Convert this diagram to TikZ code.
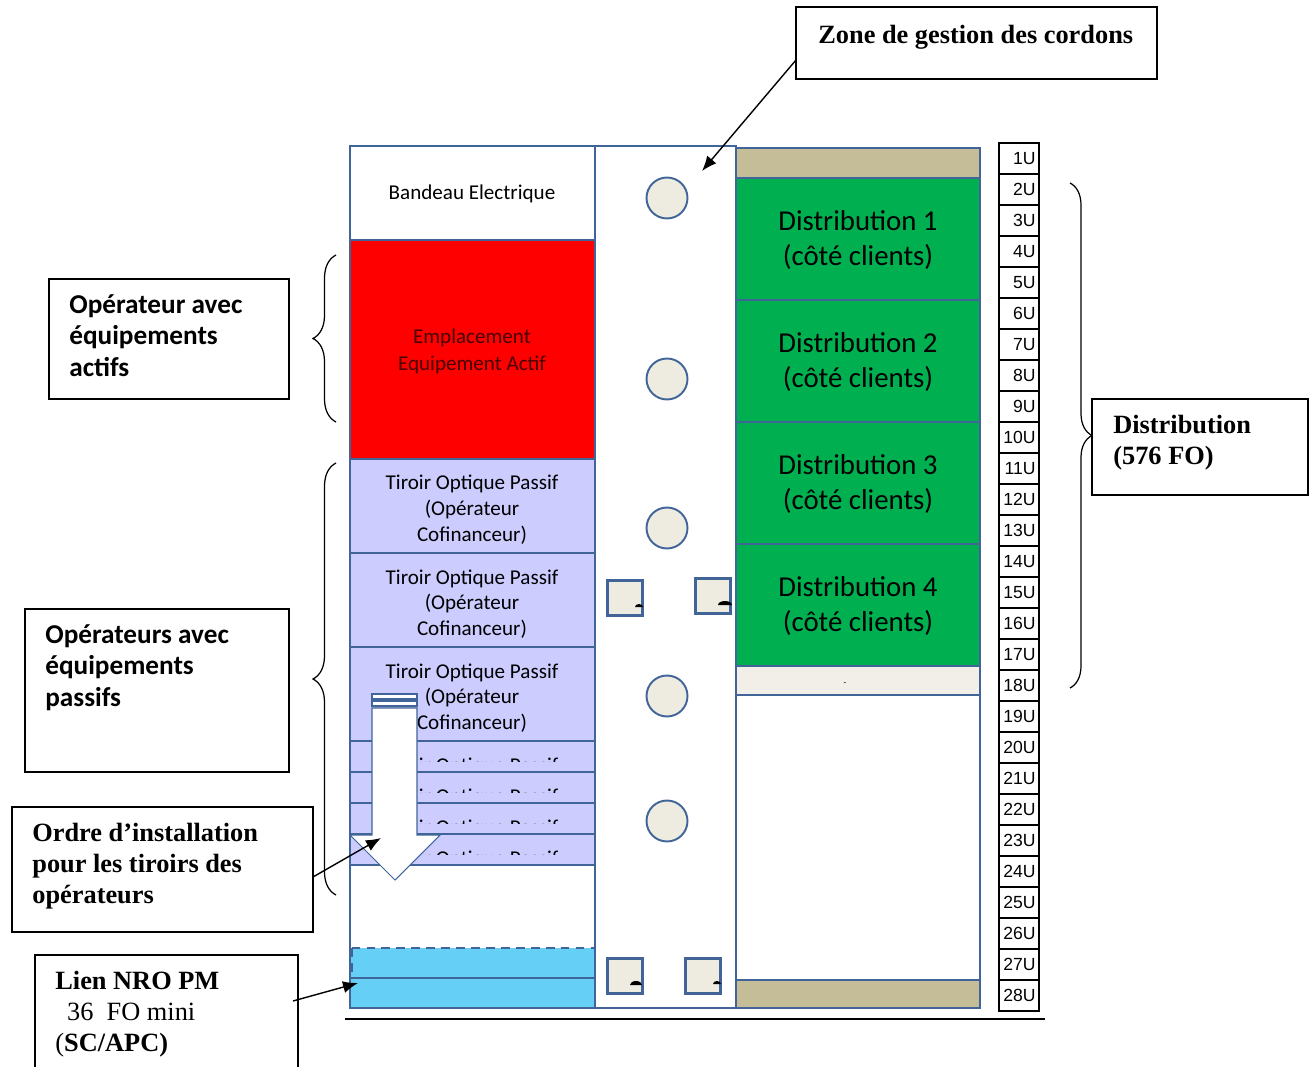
\documentclass[tikz,border=0pt]{standalone}
\usepackage{fontspec}
\setmainfont{Liberation Serif}
\newfontfamily\calfont{Carlito}
\newfontfamily\unitfont{Liberation Sans}
\usetikzlibrary{arrows.meta,decorations.pathreplacing}

\definecolor{rackblue}{RGB}{65,101,152}
\definecolor{tirlav}{RGB}{204,204,255}
\definecolor{distgreen}{RGB}{0,176,80}
\definecolor{bandtan}{RGB}{196,189,151}
\definecolor{padbeige}{RGB}{242,239,233}
\definecolor{ringfill}{RGB}{238,236,225}
\definecolor{nrocyan}{RGB}{102,207,245}
\definecolor{actred}{RGB}{255,0,0}
\definecolor{acttext}{RGB}{70,0,0}

\tikzset{
  slot/.style={draw=rackblue,line width=1.3pt},
  ring/.style={circle,draw=rackblue,line width=1.1pt,fill=ringfill,minimum size=0.82cm,inner sep=0pt},
  tray/.style={rectangle,draw=rackblue,line width=1.5pt,fill=ringfill,minimum size=0.7cm,inner sep=0pt},
  tirtxt/.style={align=center,inner sep=0pt,font=\calfont\fontsize{12}{14.7}\selectfont},
  disttxt/.style={align=center,inner sep=0pt,font=\calfont\fontsize{16.4}{20.4}\selectfont},
  unitbox/.style={draw=black,line width=0.9pt,text width=0.66cm,align=right,inner xsep=0.07cm,inner ysep=0pt,minimum height=0.62cm,font=\unitfont\fontsize{10}{10}\selectfont},
  callbox/.style={draw=black,line width=0.9pt,inner sep=0pt},
  calltxt/.style={anchor=north west,align=left,inner sep=0pt,font=\bfseries\fontsize{15}{17.6}\selectfont},
  opertxt/.style={anchor=north west,align=left,inner sep=0pt,font=\calfont\bfseries\fontsize{15.5}{18.1}\selectfont},
  callarrow/.style={line width=0.8pt,-{Latex[length=3mm,width=2.4mm]}},
  rackbrace/.style={line width=0.7pt,decorate,decoration={brace,amplitude=#1}}
}

\begin{document}
\begin{tikzpicture}[x=0.02cm,y=-0.02cm]
\useasboundingbox (0,0) rectangle (1309,1067);

% left column
\draw[slot,fill=white] (350,146) rectangle (595,240);
\node[tirtxt] (bandeau) at (472,194) {Bandeau Electrique};
\draw[slot,fill=actred] (350,240) rectangle (595,459);
\node[tirtxt,text=acttext,font=\calfont\fontsize{12}{15.3}\selectfont] (actif) at (472,351) {Emplacement\\Equipement Actif};
\foreach \t/\b [count=\k] in {459/553,553/647,647/741} {
  \draw[slot,fill=tirlav] (350,\t) rectangle (595,\b);
  \node[tirtxt] (tiroir-\k) at (472,{(\t+\b)/2+4}) {Tiroir Optique Passif\\(Opérateur\\Cofinanceur)};
}
\foreach \t [count=\k from 4] in {741,772,803,834} {
  \draw[slot,fill=tirlav] (350,\t) rectangle (595,\t+31);
  \begin{scope}
    \clip (352,\t) rectangle (593,\t+20);
    \node[tirtxt,anchor=north] (tiroir-\k) at (472,\t+17) {Tiroir Optique Passif};
  \end{scope}
}
\fill[nrocyan] (350,948) rectangle (595,1008);
\draw[rackblue,line width=1.5pt,dash pattern=on 5pt off 3.5pt] (352,948) rectangle (595,978);
\draw[slot] (350,978) rectangle (595,1008);
\draw[rackblue,line width=1.6pt] (350,146) rectangle (595,1008);

% order arrow
\draw[rackblue,line width=0.6pt,fill=white] (372,694) rectangle (417,699);
\draw[rackblue,line width=0.6pt,fill=white] (372,701) rectangle (417,706);
\draw[rackblue,line width=0.6pt,fill=white] (372,708) -- (417,708) -- (417,835) -- (440,835)
  -- (395,880) -- (350,835) -- (372,835) -- cycle;

% cord zone
\draw[rackblue,line width=1pt] (595,146) rectangle (736,1008);
\foreach \y [count=\k] in {198,379,528,696,821}
  \node[ring] (ring-\k) at (667,\y) {};
\foreach \x/\y [count=\k] in {625/598,713/596,625/976,703/976} {
  \node[tray] (tray-\k) at (\x,\y) {};
}
\fill (635,607) arc[start angle=180,end angle=360,x radius=4,y radius=3];
\fill (718,605) arc[start angle=180,end angle=360,x radius=7,y radius=4];
\fill (630,985) arc[start angle=180,end angle=360,x radius=6,y radius=4];
\fill (713,984) arc[start angle=180,end angle=360,x radius=4,y radius=3];

% right column
\draw[slot,fill=bandtan] (736,148) rectangle (980,178);
\foreach \t [count=\k] in {178,300,422,544} {
  \draw[slot,fill=distgreen] (736,\t) rectangle (980,\t+122);
  \node[disttxt] (dist-\k) at (858,\t+62) {Distribution \k\\(côté clients)};
}
\draw[slot,fill=padbeige] (736,666) rectangle (980,695);
\node[inner sep=0pt,font=\calfont\tiny] (padmark) at (845,684) {-};
\draw[slot,fill=white] (736,695) rectangle (980,980);
\draw[slot,fill=bandtan] (736,980) rectangle (980,1008);

% units
\foreach \u in {1,...,28}
  \node[unitbox] (u-\u) at (1019,{143+31*(\u-0.5)}) {\u U};
\draw[line width=1.5pt] (345,1019) -- (1045,1019);

% braces
\draw[rackbrace=0.46cm] (336,422) -- (336,255);
\draw[rackbrace=0.46cm] (336,895) -- (336,463);
\draw[rackbrace=0.44cm] (1070,183) -- (1070,688);

% callouts
\node[callbox,minimum width=7.22cm,minimum height=1.44cm] (zone) at (976.5,43) {};
\node[calltxt] (zone-txt) at (818,25) {Zone de gestion des cordons};
\node[callbox,minimum width=4.32cm,minimum height=1.92cm] (distrib) at (1200,447) {};
\node[calltxt] (distrib-txt) at (1113,415) {Distribution\\(576 FO)};
\node[callbox,minimum width=4.8cm,minimum height=2.4cm] (actifs) at (169,339) {};
\node[opertxt] (actifs-txt) at (69,294) {Opérateur avec\\équipements\\actifs};
\node[callbox,minimum width=5.28cm,minimum height=3.26cm] (passifs) at (157,690.5) {};
\node[opertxt] (passifs-txt) at (45,624) {Opérateurs avec\\équipements\\passifs};
\node[callbox,minimum width=6.02cm,minimum height=2.5cm] (ordre) at (162.5,869.5) {};
\node[calltxt] (ordre-txt) at (32,823) {Ordre d’installation\\pour les tiroirs des\\opérateurs};
\node[callbox,minimum width=5.26cm,minimum height=2.7cm] (lien) at (166.5,1022.5) {};
\node[calltxt] (lien-txt) at (55,971) {Lien NRO PM\\\mdseries\hspace{0.45em}36\hspace{0.5em}FO mini\\\mdseries(\bfseries SC/APC)};

% connectors
\coordinate (zone-foot) at (796,60);
\coordinate (zone-tip) at (702,171);
\coordinate (ordre-foot) at (313,877);
\coordinate (ordre-tip) at (381,838);
\coordinate (lien-foot) at (293,1001);
\coordinate (lien-tip) at (358,983);
\draw[callarrow] (zone-foot) -- (zone-tip);
\draw[callarrow] (ordre-foot) -- (ordre-tip);
\draw[callarrow] (lien-foot) -- (lien-tip);
\end{tikzpicture}
\end{document}
